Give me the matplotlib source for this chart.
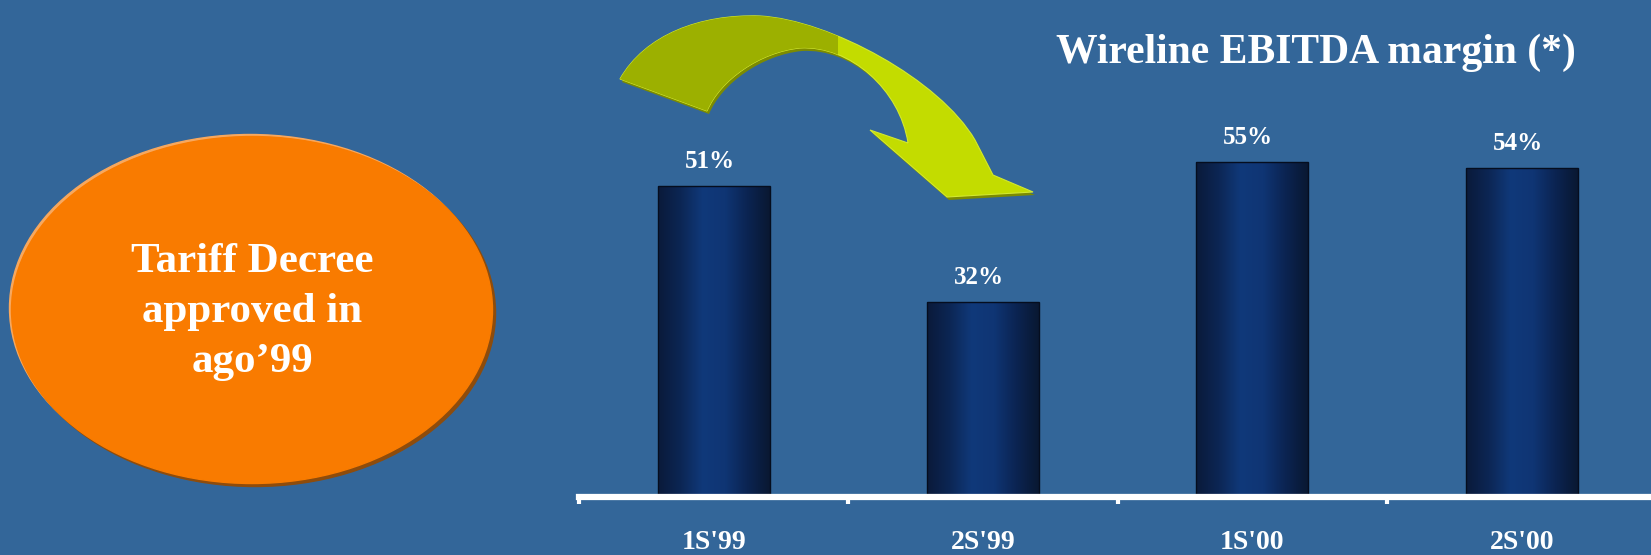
import numpy as np
import matplotlib
matplotlib.use("Agg")
import matplotlib.pyplot as plt
from matplotlib.patches import Ellipse, PathPatch, Rectangle
from matplotlib.path import Path
from matplotlib.colors import LinearSegmentedColormap

# data
periods = ["1S'99", "2S'99", "1S'00", "2S'00"]
margin = [51, 32, 55, 54]
title = "Wireline EBITDA margin (*)"
note = "Tariff Decree\napproved in\nago\u201999"

bg = "#336699"
W, H = 1651, 555
plt.rcParams["font.family"] = ["Liberation Serif", "DejaVu Serif"]
plt.rcParams["font.weight"] = "bold"

fig = plt.figure(figsize=(W / 100, H / 100), dpi=100, facecolor=bg)

# background layer in pixel coordinates for the decorations
deco = fig.add_axes([0, 0, 1, 1], zorder=0)
deco.set_xlim(0, W)
deco.set_ylim(H, 0)
deco.axis("off")

# orange ellipse with rim highlight and shadow
cx, cy, ew, eh = 252, 310, 481, 347
deco.add_patch(Ellipse((cx - 2, cy - 2), ew, eh, color="#f8a85e"))
deco.add_patch(Ellipse((cx + 3, cy + 3), ew, eh, color="#8e4c0c"))
deco.add_patch(Ellipse((cx, cy), ew, eh, color="#f97b00"))
deco.text(cx, cy + 2, note, color="white", fontsize=31, fontweight="bold",
          ha="center", va="center", linespacing=1.42)

# curved arrow
verts = [(620, 79), (645, 35), (700, 14), (760, 16),
         (830, 20), (940, 80), (975, 140),
         (993, 175), (1033, 192), (947, 197), (870, 130), (908, 143),
         (900, 90), (850, 45), (800, 48),
         (760, 52), (720, 80), (707, 111),
         (620, 79)]
codes = [Path.MOVETO, Path.CURVE4, Path.CURVE4, Path.CURVE4,
         Path.CURVE4, Path.CURVE4, Path.CURVE4,
         Path.LINETO, Path.LINETO, Path.LINETO, Path.LINETO, Path.LINETO,
         Path.CURVE4, Path.CURVE4, Path.CURVE4,
         Path.CURVE4, Path.CURVE4, Path.CURVE4,
         Path.CLOSEPOLY]
arrow = Path(verts, codes)
shadow = Path(np.array(verts) + [2, 3], codes)
deco.add_patch(PathPatch(shadow, facecolor="#7c8b00", edgecolor="none"))
ap = PathPatch(arrow, facecolor="#c3dc00", edgecolor="#d2e830", lw=0.8)
deco.add_patch(ap)
dark = Rectangle((600, 0), 238, 130, facecolor="#9cb000", edgecolor="none")
deco.add_patch(dark)
dark.set_clip_path(ap)

deco.text(1316, 63, title, color="white", fontsize=30, fontweight="bold",
          ha="center", va="baseline")

# bar chart
ax = fig.add_axes([579 / W, 1 - 497 / H, 1 - 579 / W, 497 / H], zorder=1)
ax.patch.set_alpha(0)
x = np.arange(len(periods))
bars = ax.bar(x, margin, width=0.415, color="none", edgecolor="#050d1e", lw=1)

cmap = LinearSegmentedColormap.from_list(
    "bar", ["#0a1a3a", "#0c2654", "#10397a", "#0f3574", "#0b2452", "#091832"])
grad = np.linspace(0, 1, 200).reshape(1, -1)
for b in bars:
    im = ax.imshow(grad, cmap=cmap, aspect="auto", zorder=0.5,
                   extent=[b.get_x(), b.get_x() + b.get_width(), 0, b.get_height()])
    im.set_clip_path(b)
ax.set_xlim(-0.5, 3.48)
ax.set_ylim(0, 81.5)

for xi, v in zip(x, margin):
    ax.annotate(f"{v}%", (xi, v), xytext=(-3, 13), textcoords="offset points",
                ha="center", va="baseline", color="white", fontsize=18,
                fontweight="bold")

for s in ["top", "right", "left"]:
    ax.spines[s].set_visible(False)
ax.spines["bottom"].set_color("white")
ax.spines["bottom"].set_linewidth(4.5)
ax.set_yticks([])
ax.set_xticks(x)
ax.set_xticklabels(periods, color="white", fontsize=20, fontweight="bold")
ax.tick_params(axis="x", which="major", length=0, pad=24)
ax.set_xticks(np.arange(-0.5, 3, 1), minor=True)
ax.tick_params(axis="x", which="minor", length=5, width=3, color="white",
               direction="out")

fig.savefig("out.png", dpi=100, facecolor=bg)
